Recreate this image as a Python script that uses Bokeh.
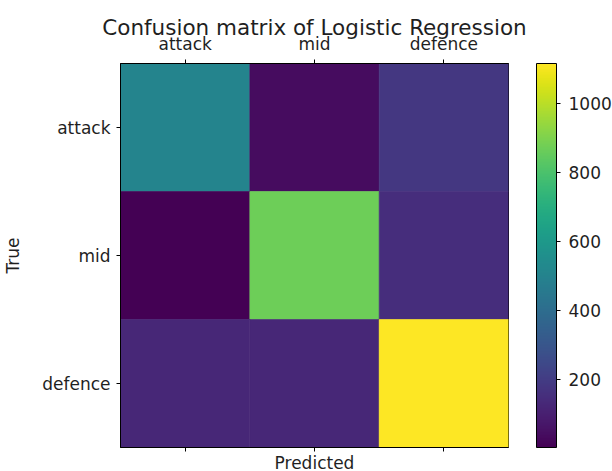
from bokeh.plotting import figure
from bokeh.models import (LinearColorMapper, ColorBar, FixedTicker, CategoricalAxis,
                          FactorRange, ColumnDataSource)
from bokeh.transform import transform
from bokeh.palettes import Viridis256
from bokeh.embed import file_html
from bokeh.resources import INLINE

# ---- data ----
classes = ["attack", "mid", "defence"]
true_labels = ["attack", "attack", "attack", "mid", "mid", "mid", "defence", "defence", "defence"]
pred_labels = ["attack", "mid", "defence", "attack", "mid", "defence", "attack", "mid", "defence"]
counts = [505, 40, 185, 3, 872, 150, 128, 128, 1117]
cbar_ticks = [200, 400, 600, 800, 1000]
title_text = "Confusion matrix of Logistic Regression"

FONT = "DejaVu Sans"
TXT = "#1f1f1f"
FW, FH = 388, 384

src = ColumnDataSource(dict(x=pred_labels, y=true_labels, v=counts))
mapper = LinearColorMapper(palette=Viridis256, low=min(counts), high=max(counts))

p = figure(frame_width=FW, frame_height=FH, output_backend="svg", toolbar_location=None,
           x_range=FactorRange(*classes), y_range=FactorRange(*classes[::-1]),
           x_axis_location="above", title=title_text,
           min_border_left=120, min_border_right=104, min_border_top=63, min_border_bottom=24)

p.rect(x="x", y="y", width=1, height=1, source=src,
       fill_color=transform("v", mapper), line_color=transform("v", mapper), line_width=0.6)

p.grid.visible = False
p.outline_line_color = "black"
p.outline_line_width = 1
p.x_range.range_padding = 0
p.y_range.range_padding = 0

p.title.align = "center"
p.title.text_font = FONT
p.title.text_font_size = "21.5px"
p.title.text_font_style = "normal"
p.title.text_color = TXT
p.title.standoff = -19

bottom = CategoricalAxis(axis_label="Predicted")
p.add_layout(bottom, "below")

for ax in p.axis:
    ax.axis_line_color = "black"
    ax.major_tick_line_color = "black"
    ax.major_tick_out = 4
    ax.major_tick_in = 0
    ax.minor_tick_line_color = None
    ax.major_label_text_font = FONT
    ax.major_label_text_font_size = "17px"
    ax.major_label_text_color = TXT
    ax.axis_label_text_font = FONT
    ax.axis_label_text_font_size = "17px"
    ax.axis_label_text_font_style = "normal"
    ax.axis_label_text_color = TXT
    ax.major_label_standoff = 6

p.yaxis.axis_label = "True"
p.yaxis.axis_label_standoff = 16

bottom.major_label_text_font_size = "0px"
bottom.major_label_text_color = None
bottom.major_label_standoff = 0
bottom.axis_label_standoff = 1

cb = ColorBar(color_mapper=mapper, ticker=FixedTicker(ticks=cbar_ticks),
              width=20, height=FH, location=(28, 0), margin=0, padding=0,
              bar_line_color="black", bar_line_width=1,
              major_tick_in=0, major_tick_out=4, major_tick_line_color="black",
              minor_tick_line_color=None,
              major_label_text_font=FONT, major_label_text_font_size="17px",
              major_label_text_color=TXT, label_standoff=8,
              border_line_color=None, background_fill_color=None)
p.add_layout(cb, "right")

open("out.html", "w").write(file_html(p, INLINE))
